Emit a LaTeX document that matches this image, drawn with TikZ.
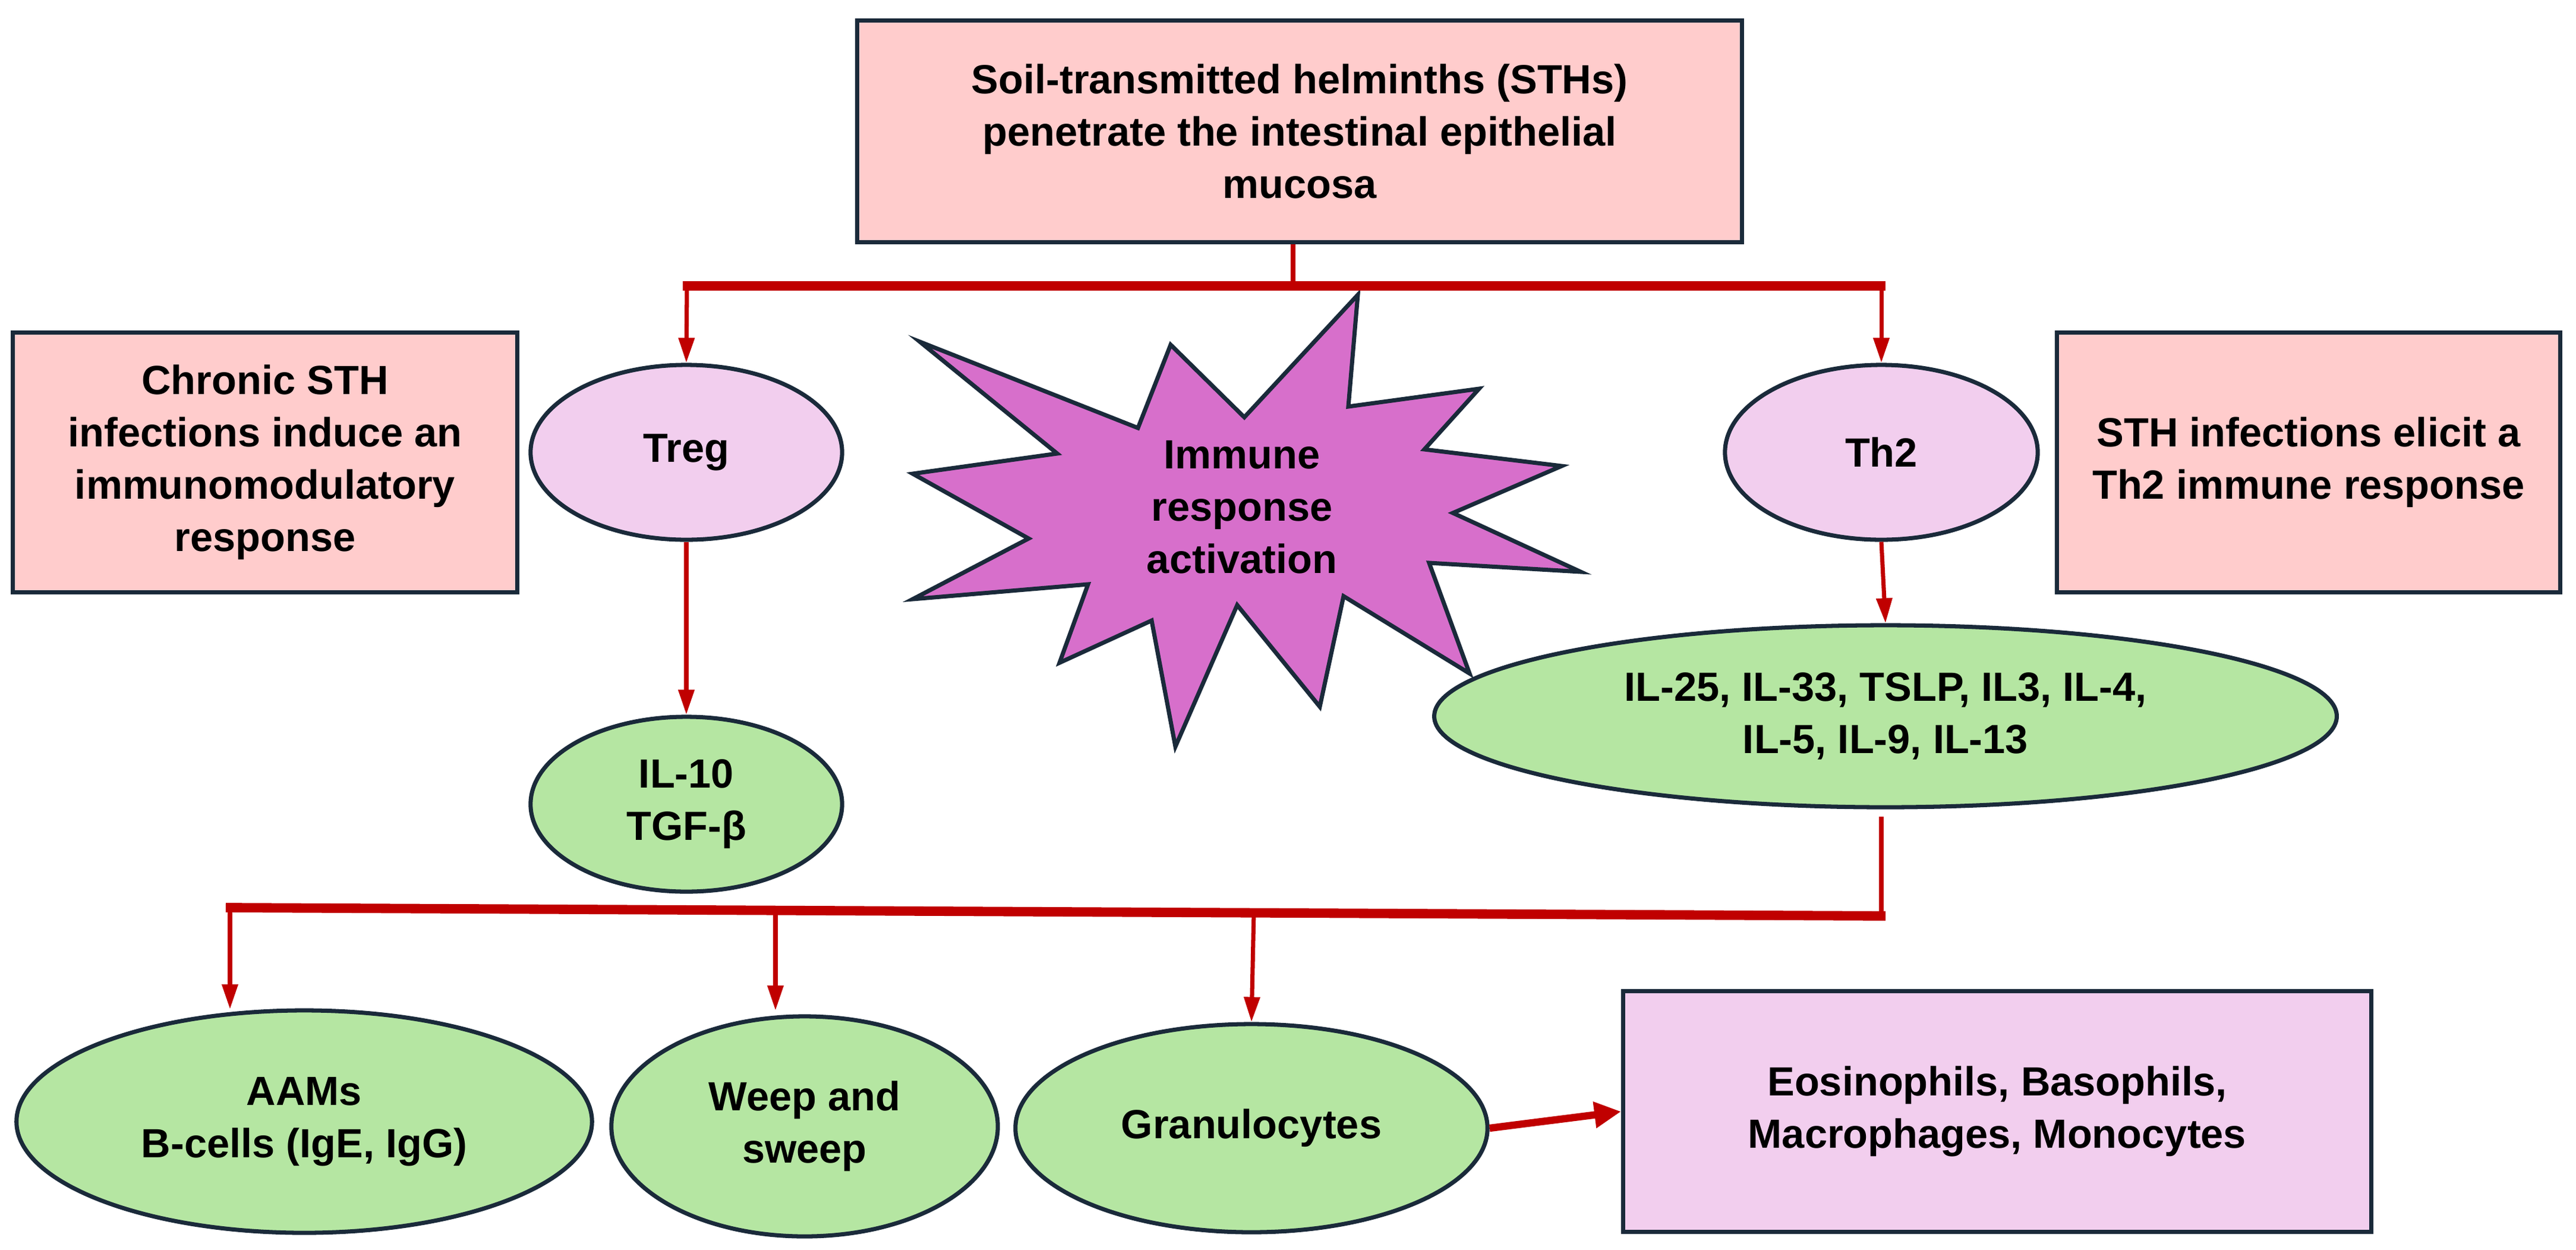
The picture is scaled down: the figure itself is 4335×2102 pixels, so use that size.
\documentclass[tikz,border=0pt]{standalone}
\usepackage{fontspec}
\setmainfont{Liberation Sans}
\usetikzlibrary{arrows.meta,shapes.geometric}
\definecolor{rd}{HTML}{C00000}
\definecolor{bd}{HTML}{1A2A3A}
\definecolor{pinkbox}{HTML}{FFCCCC}
\definecolor{lav}{HTML}{F2CEEE}
\definecolor{grn}{HTML}{B5E6A2}
\definecolor{mag}{HTML}{D76FCB}
\begin{document}
\begin{tikzpicture}[x=0.01cm,y=-0.01cm,
  txt/.style={font=\fontsize{19.5}{25}\selectfont\bfseries,align=center,text=black},
  box/.style={txt,draw=bd,line width=2pt,inner sep=0pt},
  ell/.style={txt,ellipse,draw=bd,line width=2pt,fill=grn,inner sep=0pt},
  arr/.style={rd,line width=2pt,-{Triangle[length=0.42cm,width=0.26cm]}},
  bar/.style={rd,line width=4.5pt}]
\useasboundingbox (0,0) rectangle (4335,2102);
% boxes
\node[box,fill=pinkbox,minimum width=14.88cm,minimum height=3.72cm] (top) at (2187,221) {Soil-transmitted helminths (STHs)\\penetrate the intestinal epithelial\\mucosa};
\node[box,fill=pinkbox,minimum width=8.49cm,minimum height=4.36cm] (left) at (446,778) {Chronic STH\\infections induce an\\immunomodulatory\\response};
\node[box,fill=pinkbox,minimum width=8.46cm,minimum height=4.36cm] (right) at (3885,778) {STH infections elicit a\\Th2 immune response};
\node[box,fill=lav,minimum width=12.58cm,minimum height=4.04cm] (eos) at (3361,1870) {Eosinophils, Basophils,\\Macrophages, Monocytes};
% ellipses
\node[ell,fill=lav,minimum width=5.24cm,minimum height=2.94cm] (treg) at (1155,761) {Treg};
\node[ell,fill=lav,minimum width=5.26cm,minimum height=2.94cm] (th2) at (3166,761) {Th2};
\node[ell,minimum width=15.18cm,minimum height=3.06cm] (il) at (3173,1205) {IL-25, IL-33, TSLP, IL3, IL-4,\\IL-5, IL-9, IL-13};
\node[ell,minimum width=5.24cm,minimum height=2.94cm] (il10) at (1155,1353) {IL-10\\TGF-β};
\node[ell,minimum width=9.68cm,minimum height=3.74cm] (aam) at (512,1887) {AAMs\\B-cells (IgE, IgG)};
\node[ell,minimum width=6.5cm,minimum height=3.7cm] (weep) at (1354,1895) {Weep and\\sweep};
\node[ell,minimum width=7.94cm,minimum height=3.5cm] (gran) at (2106,1898) {Granulocytes};
% star
\filldraw[fill=mag,draw=bd,line width=2pt,line join=miter]
 (1548,575)--(1915,720)--(1970,580)--(2094,702)--(2285,496)--(2269,684)--(2489,654)--(2397,756)
 --(2628,784)--(2445,863)--(2660,962)--(2405,947)--(2473,1133)--(2261,1003)--(2221,1189)--(2082,1018)
 --(1978,1256)--(1938,1044)--(1783,1115)--(1831,983)--(1536,1008)--(1731,906)--(1536,797)--(1779,763)--cycle;
\node[txt] (star) at (2090,853) {Immune\\response\\activation};
% top connectors
\coordinate (j0) at (2176,481);
\coordinate (jl) at (1156,481);
\coordinate (jr) at (3166,481);
\draw[rd,line width=2.2pt] (top.south -| j0) -- (j0);
\draw[bar] ([xshift=-2pt]jl) -- ([xshift=2pt]jr);
\draw[arr] (jl) -- (treg.north);
\draw[arr] (jr) -- (th2.north);
\draw[arr] (treg.south) -- (il10.north);
\draw[arr] (th2.south) -- (il.north);
% bottom connectors
\coordinate (b0) at (3166,1541);
\coordinate (b1) at (387,1527);
\coordinate (b2) at (1305,1531);
\coordinate (b3) at (2110,1535);
\draw[rd,line width=2.2pt] (3166,1374) -- (b0);
\draw[bar] ([xshift=2pt]b0) -- ([xshift=-2pt]b1);
\draw[arr] (b1) -- (387,1698);
\draw[arr] (b2) -- (1305,1700);
\draw[arr] (b3) -- (gran.north);
\draw[rd,line width=3.5pt,-{Triangle[length=0.45cm,width=0.42cm]}] (gran.east) -- (eos.west);
\end{tikzpicture}
\end{document}
